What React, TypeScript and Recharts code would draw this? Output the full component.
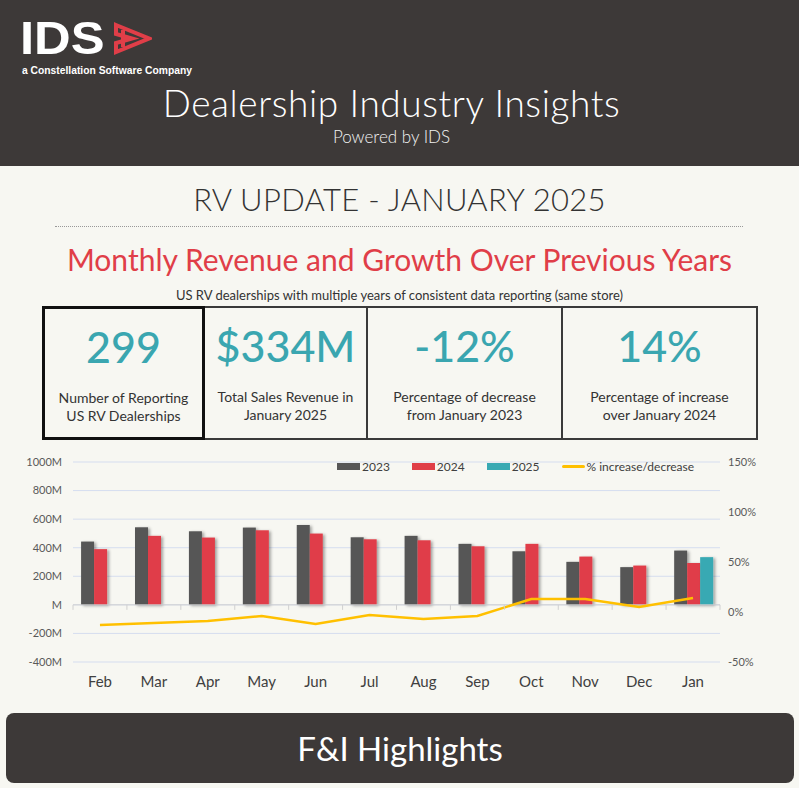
import React from "react";
import {
  ComposedChart,
  Bar,
  Line,
  XAxis,
  YAxis,
  CartesianGrid,
  Legend,
  ReferenceLine,
} from "recharts";

// monthly revenue, $M (same store)
const months = ["Feb", "Mar", "Apr", "May", "Jun", "Jul", "Aug", "Sep", "Oct", "Nov", "Dec", "Jan"];
const rev2023 = [443, 543, 515, 541, 559, 473, 483, 427, 375, 301, 264, 380];
const rev2024 = [390, 483, 471, 522, 499, 459, 452, 410, 427, 338, 275, 293];
const rev2025 = [null, null, null, null, null, null, null, null, null, null, null, 334];
const pctChange = [-13, -11, -9, -4, -12, -3, -7, -4, 13, 13, 5, 14];

const revTicks = [-400, -200, 0, 200, 400, 600, 800, 1000];
const pctTicks = [-50, 0, 50, 100, 150];

const kpiValues = ["299", "$334M", "-12%", "14%"];
const kpiLabels = [
  ["Number of Reporting", "US RV Dealerships"],
  ["Total Sales Revenue in", "January 2025"],
  ["Percentage of decrease", "from January 2023"],
  ["Percentage of increase", "over January 2024"],
];

const data = months.map((m, i) => ({
  month: m,
  y2023: rev2023[i],
  y2024: rev2024[i],
  y2025: rev2025[i],
  pct: pctChange[i],
}));

const FONT = "Lato, 'Open Sans', sans-serif";
const DARK = "#3d3938";
const GRAY = "#575757";
const RED = "#e03e48";
const TEAL = "#38a9b3";
const GOLD = "#ffc000";

const series = [
  { key: "y2023", name: "2023", color: GRAY, type: "bar" },
  { key: "y2024", name: "2024", color: RED, type: "bar" },
  { key: "y2025", name: "2025", color: TEAL, type: "bar" },
  { key: "pct", name: "% increase/decrease", color: GOLD, type: "line" },
];

const CH_W = 799;
const CH_H = 250;
const X_AXIS_H = 30;
const MARGIN = { top: 12, right: 29, bottom: 8, left: 13 };
const PLOT_H = CH_H - MARGIN.top - MARGIN.bottom - X_AXIS_H;
const ZERO_Y = MARGIN.top + PLOT_H * (1000 / 1400);
const BAND = (CH_W - MARGIN.left - MARGIN.right - 60 - 50) / months.length;

const ShadowBar = (props: any) => {
  const { x, y, width, height, fill } = props;
  if (!height || height <= 0) return null;
  return <rect x={x} y={y} width={width} height={height} fill={fill} filter="url(#barShadow)" />;
};

const MonthTick = (props: any) => {
  const { x, y, payload, index } = props;
  const left = x - BAND / 2;
  return (
    <g>
      <line x1={left} x2={left} y1={ZERO_Y} y2={ZERO_Y + 5} stroke="#d0d0d0" />
      {index === months.length - 1 && (
        <line x1={x + BAND / 2} x2={x + BAND / 2} y1={ZERO_Y} y2={ZERO_Y + 5} stroke="#d0d0d0" />
      )}
      <text x={x} y={y} dy="0.71em" textAnchor="middle" fontSize={15} fill="#404040" fontFamily={FONT}>
        {payload.value}
      </text>
    </g>
  );
};

const LegendContent = () => (
  <div style={{ display: "flex", gap: 22, fontFamily: FONT, fontSize: 12, color: "#404040" }}>
    {series.map((s) => (
      <div key={s.key} style={{ display: "flex", alignItems: "center" }}>
        <span
          style={{
            display: "inline-block",
            width: 23,
            height: s.type === "bar" ? 7 : 3,
            background: s.color,
            marginRight: 2,
            borderRadius: s.type === "bar" ? 0 : 2,
          }}
        />
        {s.name}
      </div>
    ))}
  </div>
);

const Logo = () => (
  <div style={{ position: "absolute", left: 20, top: 16 }}>
    <div style={{ display: "flex", alignItems: "center", height: 44 }}>
      <span
        style={{
          fontFamily: "'Liberation Sans', Arial, sans-serif",
          fontWeight: 900,
          fontSize: 47,
          lineHeight: "44px",
          color: "#fff",
          letterSpacing: 0,
          display: "inline-block",
          transform: "scaleX(1.08)",
          transformOrigin: "left center",
        }}
      >
        IDS
      </span>
      <svg width={40} height={33} viewBox="0 0 40 33" style={{ marginLeft: 14 }}>
        <path d="M4,3 L37,16.5 L4,30 L4,21 L20,16.5 L4,12 Z" fill="none" stroke="#e03e48" strokeWidth={4} strokeLinejoin="miter" />
        <path d="M11,8 L11,25" stroke="#e03e48" strokeWidth={4} />
      </svg>
    </div>
    <div
      style={{
        fontFamily: "'Liberation Sans', Arial, sans-serif",
        fontWeight: 700,
        fontSize: 10.3,
        lineHeight: "12px",
        color: "#fff",
        marginTop: 5,
        marginLeft: 2,
      }}
    >
      a Constellation Software Company
    </div>
  </div>
);

const App: React.FC = () => {
  const boxEdges = [42, 205, 368, 563, 758];
  return (
    <div
      style={{
        position: "relative",
        width: 799,
        height: 788,
        background: "#f7f7f2",
        overflow: "hidden",
        fontFamily: FONT,
      }}
    >
      <style>{`body{margin:0}`}</style>
      <div style={{ position: "absolute", left: 0, top: 0, width: 799, height: 166, background: DARK }} />
      <Logo />
      <div
        style={{
          position: "absolute",
          top: 80,
          left: -8,
          width: 799,
          textAlign: "center",
          color: "#fff",
          fontSize: 37,
          fontWeight: 300,
          letterSpacing: 0.6,
        }}
      >
        Dealership Industry Insights
      </div>
      <div
        style={{
          position: "absolute",
          top: 126,
          left: -8,
          width: 799,
          textAlign: "center",
          color: "#f2f2f2",
          fontSize: 17,
          fontWeight: 300,
        }}
      >
        Powered by IDS
      </div>

      <div
        style={{
          position: "absolute",
          top: 180,
          width: 799,
          textAlign: "center",
          color: "#333",
          fontSize: 31,
          fontWeight: 300,
          letterSpacing: 0.3,
        }}
      >
        RV UPDATE - JANUARY 2025
      </div>
      <div style={{ position: "absolute", left: 55, top: 226, width: 688, borderTop: "1px dotted #999" }} />
      <div
        style={{
          position: "absolute",
          top: 241,
          width: 799,
          textAlign: "center",
          color: RED,
          fontSize: 30,
          fontWeight: 400,
        }}
      >
        Monthly Revenue and Growth Over Previous Years
      </div>
      <div style={{ position: "absolute", top: 287, width: 799, textAlign: "center", color: "#333", fontSize: 13 }}>
        US RV dealerships with multiple years of consistent data reporting (same store)
      </div>

      {kpiValues.map((v, i) => {
        const left = boxEdges[i];
        const w = boxEdges[i + 1] - left;
        return (
          <div
            key={v}
            style={{
              position: "absolute",
              left,
              top: 306,
              width: w,
              height: 134,
              boxSizing: "border-box",
              border: i === 0 ? "3px solid #111" : "2px solid #3a3a3a",
              borderLeft: i === 0 ? "3px solid #111" : "none",
              textAlign: "center",
            }}
          >
            <div style={{ marginTop: 12, fontSize: 43, color: "#3aa6b0", fontWeight: 500, lineHeight: "52px" }}>{v}</div>
            <div style={{ marginTop: 16, fontSize: 14, color: "#333", lineHeight: "18px" }}>
              {kpiLabels[i][0]}
              <br />
              {kpiLabels[i][1]}
            </div>
          </div>
        );
      })}

      <div style={{ position: "absolute", left: 0, top: 450 }}>
        <ComposedChart width={CH_W} height={CH_H} data={data} margin={MARGIN} barCategoryGap="15%" barGap={0}>
          <defs>
            <filter id="barShadow" x="-30%" y="-10%" width="170%" height="130%">
              <feDropShadow dx={2} dy={1} stdDeviation={1.6} floodColor="#000" floodOpacity={0.35} />
            </filter>
          </defs>
          <CartesianGrid yAxisId="rev" vertical={false} stroke="#d5ddef" />
          <XAxis
            dataKey="month"
            height={X_AXIS_H}
            axisLine={false}
            tickLine={false}
            tick={<MonthTick />}
            tickMargin={8}
            interval={0}
          />
          <YAxis
            yAxisId="rev"
            width={60}
            domain={[-400, 1000]}
            ticks={revTicks}
            axisLine={false}
            tickLine={false}
            tickMargin={5}
            tickFormatter={(v: number) => (v === 0 ? "M" : `${v}M`)}
            tick={{ fill: "#595959", fontSize: 11, fontFamily: FONT }}
          />
          <YAxis
            yAxisId="pct"
            orientation="right"
            width={50}
            domain={[-50, 150]}
            ticks={pctTicks}
            axisLine={false}
            tickLine={false}
            tickMargin={2}
            tickFormatter={(v: number) => `${v}%`}
            tick={{ fill: "#595959", fontSize: 11, fontFamily: FONT }}
          />
          <ReferenceLine yAxisId="rev" y={0} stroke="#d0d0d0" />
          <Legend
            layout="horizontal"
            verticalAlign="middle"
            align="center"
            content={<LegendContent />}
            wrapperStyle={{ top: 9, left: 337, width: 400 }}
          />
          {series
            .filter((s) => s.type === "bar")
            .map((s) => (
              <Bar
                key={s.key}
                yAxisId="rev"
                dataKey={s.key}
                name={s.name}
                fill={s.color}
                shape={<ShadowBar />}
                isAnimationActive={false}
              />
            ))}
          <Line
            yAxisId="pct"
            dataKey="pct"
            name="% increase/decrease"
            type="linear"
            stroke={GOLD}
            strokeWidth={2.5}
            dot={false}
            activeDot={false}
            isAnimationActive={false}
          />
        </ComposedChart>
      </div>

      <div
        style={{
          position: "absolute",
          left: 6,
          top: 713,
          width: 788,
          height: 70,
          borderRadius: 8,
          background: DARK,
          color: "#fff",
          fontSize: 33,
          textAlign: "center",
          lineHeight: "70px",
        }}
      >
        F&amp;I Highlights
      </div>
    </div>
  );
};

export default App;
